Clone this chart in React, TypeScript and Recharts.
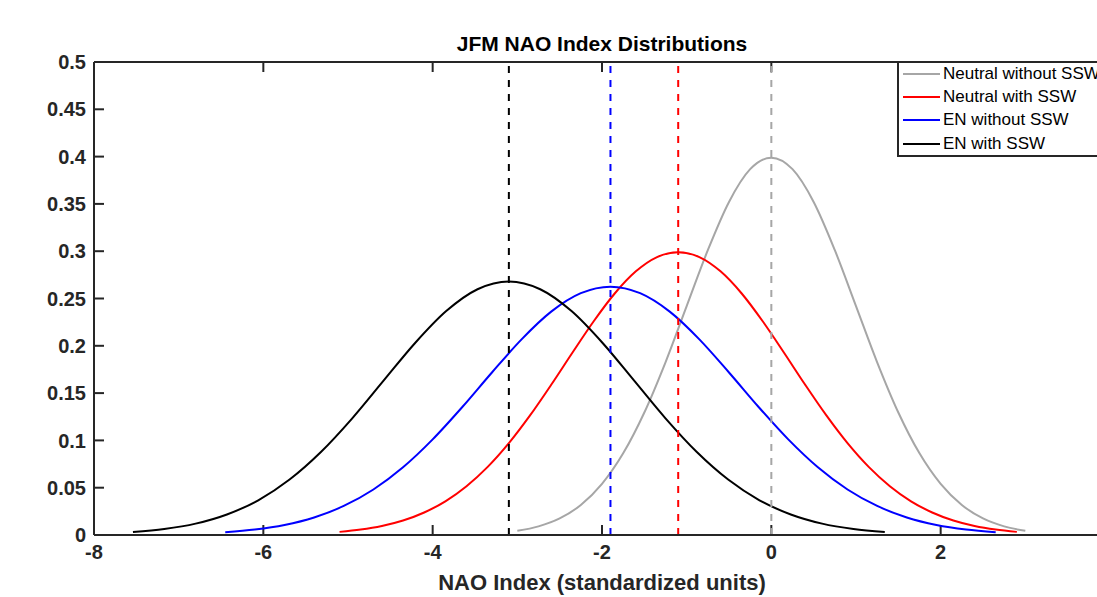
import { LineChart, Line, XAxis, YAxis, ReferenceLine } from 'recharts';

const xTicks = [-8, -6, -4, -2, 0, 2, 4];
const xTickLabels = [-8, -6, -4, -2, 0, 2];
const yTicks = [0, 0.05, 0.1, 0.15, 0.2, 0.25, 0.3, 0.35, 0.4, 0.45, 0.5];

// Neutral without SSW
const neutralNoX = [-3, -2.75, -2.5, -2.25, -2, -1.75, -1.5, -1.25, -1, -0.75, -0.5, -0.25, 0, 0.25, 0.5, 0.75, 1, 1.25, 1.5, 1.75, 2, 2.25, 2.5, 2.75, 3];
const neutralNoY = [0.0044, 0.0091, 0.0175, 0.0317, 0.054, 0.0863, 0.1295, 0.1826, 0.242, 0.3011, 0.3521, 0.3867, 0.3989, 0.3867, 0.3521, 0.3011, 0.242, 0.1826, 0.1295, 0.0863, 0.054, 0.0317, 0.0175, 0.0091, 0.0044];

// Neutral with SSW
const neutralSswX = [-5.1, -4.85, -4.6, -4.35, -4.1, -3.85, -3.6, -3.35, -3.1, -2.85, -2.6, -2.35, -2.1, -1.85, -1.6, -1.35, -1.1, -0.85, -0.6, -0.35, -0.1, 0.15, 0.4, 0.65, 0.9, 1.15, 1.4, 1.65, 1.9, 2.15, 2.4, 2.65, 2.9];
const neutralSswY = [0.0033, 0.0057, 0.0095, 0.0153, 0.0238, 0.0356, 0.0516, 0.072, 0.0971, 0.1264, 0.1588, 0.1927, 0.2257, 0.2553, 0.2787, 0.2938, 0.299, 0.2938, 0.2787, 0.2553, 0.2257, 0.1927, 0.1588, 0.1264, 0.0971, 0.072, 0.0516, 0.0356, 0.0238, 0.0153, 0.0095, 0.0057, 0.0033];

// EN without SSW
const enNoX = [-6.45, -6.1, -5.75, -5.4, -5.05, -4.7, -4.35, -4.0, -3.65, -3.3, -2.95, -2.6, -2.25, -1.9, -1.55, -1.2, -0.85, -0.5, -0.15, 0.2, 0.55, 0.9, 1.25, 1.6, 1.95, 2.3, 2.65];
const enNoY = [0.003, 0.0058, 0.0106, 0.0185, 0.0307, 0.0481, 0.0716, 0.1011, 0.1353, 0.1718, 0.2068, 0.2361, 0.2556, 0.2625, 0.2556, 0.2361, 0.2068, 0.1718, 0.1353, 0.1011, 0.0716, 0.0481, 0.0307, 0.0185, 0.0106, 0.0058, 0.003];

// EN with SSW
const enSswX = [-7.54, -7.17, -6.8, -6.43, -6.06, -5.69, -5.32, -4.95, -4.58, -4.21, -3.84, -3.47, -3.1, -2.73, -2.36, -1.99, -1.62, -1.25, -0.88, -0.51, -0.14, 0.23, 0.6, 0.97, 1.34];
const enSswY = [0.0031, 0.0063, 0.012, 0.0217, 0.0367, 0.0586, 0.0877, 0.1233, 0.1631, 0.2027, 0.2367, 0.2598, 0.268, 0.2598, 0.2367, 0.2027, 0.1631, 0.1233, 0.0877, 0.0586, 0.0367, 0.0217, 0.012, 0.0063, 0.0031];

const seriesNames = ['Neutral without SSW', 'Neutral with SSW', 'EN without SSW', 'EN with SSW'];
const seriesColors = ['#a6a6a6', '#ff0000', '#0000ff', '#000000'];
const seriesMeans = [0, -1.1, -1.9, -3.1];

const zip = (xs: number[], ys: number[]) => xs.map((x, i) => ({ x, y: ys[i] }));
const seriesData = [
  zip(neutralNoX, neutralNoY),
  zip(neutralSswX, neutralSswY),
  zip(enNoX, enNoY),
  zip(enSswX, enSswY),
];

const FONT = '"Liberation Sans", Arial, Helvetica, sans-serif';
const AXIS = '#262626';

export default function App() {
  const tickStyle = { fontSize: 20, fontWeight: 'bold', fill: AXIS, fontFamily: FONT };
  return (
    <div style={{ position: 'fixed', left: 0, top: 0, width: 1097, height: 597, overflow: 'hidden', background: '#fff', fontFamily: FONT }}>
      <LineChart width={1150} height={597} margin={{ top: 62, right: 40, bottom: 0, left: 0 }}>
        <XAxis
          type="number"
          dataKey="x"
          domain={[-8, 4]}
          ticks={xTickLabels}
          allowDataOverflow
          height={62}
          tickLine={false}
          tickSize={0}
          tickMargin={10}
          axisLine={{ stroke: AXIS, strokeWidth: 2 }}
          tick={tickStyle}
        />
        <YAxis
          type="number"
          dataKey="y"
          domain={[0, 0.5]}
          ticks={yTicks}
          allowDataOverflow
          width={94}
          tickLine={false}
          tickSize={0}
          tickMargin={8}
          axisLine={{ stroke: AXIS, strokeWidth: 2 }}
          tick={tickStyle}
        />
        <ReferenceLine y={0.5} stroke={AXIS} strokeWidth={2} />
        {xTicks.map((v) => (
          <ReferenceLine key={'xb' + v} segment={[{ x: v, y: 0 }, { x: v, y: 0.0106 }]} stroke={AXIS} strokeWidth={2} />
        ))}
        {xTicks.map((v) => (
          <ReferenceLine key={'xt' + v} segment={[{ x: v, y: 0.5 }, { x: v, y: 0.4894 }]} stroke={AXIS} strokeWidth={2} />
        ))}
        {yTicks.map((v) => (
          <ReferenceLine key={'yl' + v} segment={[{ x: -8, y: v }, { x: -7.882, y: v }]} stroke={AXIS} strokeWidth={2} />
        ))}
        {seriesData.map((d, i) => (
          <Line
            key={seriesNames[i]}
            data={d}
            dataKey="y"
            name={seriesNames[i]}
            type="monotone"
            stroke={seriesColors[i]}
            strokeWidth={2}
            dot={false}
            activeDot={false}
            isAnimationActive={false}
          />
        ))}
        {seriesMeans.map((m, i) => (
          <ReferenceLine key={'m' + i} x={m} stroke={seriesColors[i]} strokeWidth={2} strokeDasharray="7 7" />
        ))}
      </LineChart>

      <div style={{ position: 'absolute', left: 402, top: 32, width: 400, textAlign: 'center', fontSize: 21, lineHeight: '24px', fontWeight: 'bold', color: '#000' }}>
        JFM NAO Index Distributions
      </div>
      <div style={{ position: 'absolute', left: 302, top: 570, width: 600, textAlign: 'center', fontSize: 22, lineHeight: '26px', fontWeight: 'bold', color: AXIS }}>
        NAO Index (standardized units)
      </div>

      <div style={{ position: 'absolute', left: 897, top: 61, width: 240, height: 92, border: `2px solid ${AXIS}`, background: '#fff' }}>
        {seriesNames.map((n, i) => (
          <div key={n} style={{ display: 'flex', alignItems: 'center', height: 23.3, marginTop: i === 0 ? -1 : 0, whiteSpace: 'nowrap' }}>
            <div style={{ width: 37, height: 2, marginLeft: 4, marginRight: 3, background: seriesColors[i] }} />
            <span style={{ fontSize: 17, color: '#000' }}>{n}</span>
          </div>
        ))}
      </div>
    </div>
  );
}
